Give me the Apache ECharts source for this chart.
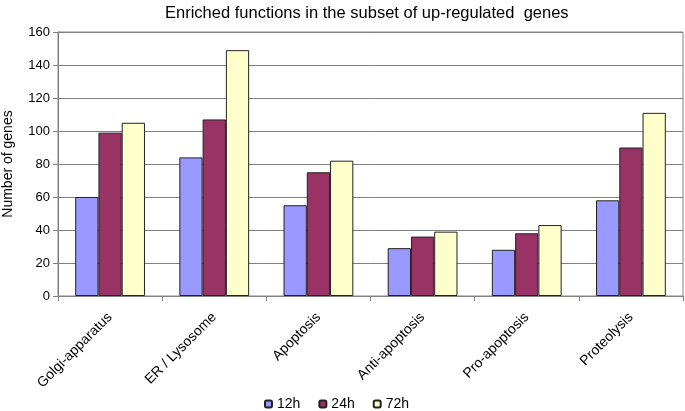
<!DOCTYPE html>
<html><head><meta charset="utf-8">
<script src="https://cdn.jsdelivr.net/npm/echarts@6/dist/echarts.min.js"></script>
<style>html,body{margin:0;padding:0;background:#fff}#c{width:685px;height:411px}</style>
</head><body><div id="c"></div>
<script>
const categories = ["Golgi-apparatus","ER / Lysosome","Apoptosis","Anti-apoptosis","Pro-apoptosis","Proteolysis"];
const h12 = [60, 84, 55, 29, 28, 58];
const h24 = [99, 107, 75, 36, 38, 90];
const h72 = [105, 149, 82, 39, 43, 111];
const yTicks = [0, 20, 40, 60, 80, 100, 120, 140, 160];

const font = "'Liberation Sans', Arial, sans-serif";
const chart = echarts.init(document.getElementById('c'));
const mk = (name, data, color) => ({
  name, type: 'bar', data, barGap: '0%', barCategoryGap: '33%',
  itemStyle: { color, borderColor: '#222', borderWidth: 1 }
});
chart.setOption({
  animation: false,
  title: { text: 'Enriched functions in the subset of up-regulated  genes', left: 160, top: 0,
    textStyle: { fontFamily: font, fontSize: 16.5, fontWeight: 'normal', color: '#000' } },
  legend: { bottom: 0, left: 264, padding: 0, itemWidth: 7, itemHeight: 7, itemGap: 18,
    textStyle: { fontFamily: font, fontSize: 14, color: '#000' },
    data: ['12h','24h','72h'] },
  grid: { left: 58, right: 2, top: 32, bottom: 115, outerBoundsMode: 'none', containLabel: false,
    show: true, borderColor: '#808080', borderWidth: 1 },
  xAxis: { type: 'category', data: categories,
    axisLine: { lineStyle: { color: '#808080' } },
    axisTick: { show: true, inside: false, length: 5, lineStyle: { color: '#808080' } },
    axisLabel: { rotate: 45, interval: 0, fontFamily: font, fontSize: 14, color: '#000', margin: 19 } },
  yAxis: { type: 'value', min: yTicks[0], max: yTicks[yTicks.length-1], interval: 20,
    name: 'Number of genes', nameLocation: 'middle', nameGap: 43,
    nameTextStyle: { fontFamily: font, fontSize: 14, color: '#000' },
    axisLine: { show: true, lineStyle: { color: '#808080' } },
    axisTick: { show: true, length: 5, lineStyle: { color: '#808080' } },
    axisLabel: { fontFamily: font, fontSize: 13, color: '#000', margin: 8 },
    splitLine: { lineStyle: { color: '#808080', width: 1 } } },
  series: [ mk('12h', h12, '#9999FF'), mk('24h', h24, '#993366'), mk('72h', h72, '#FFFFCC') ]
});
</script></body></html>
